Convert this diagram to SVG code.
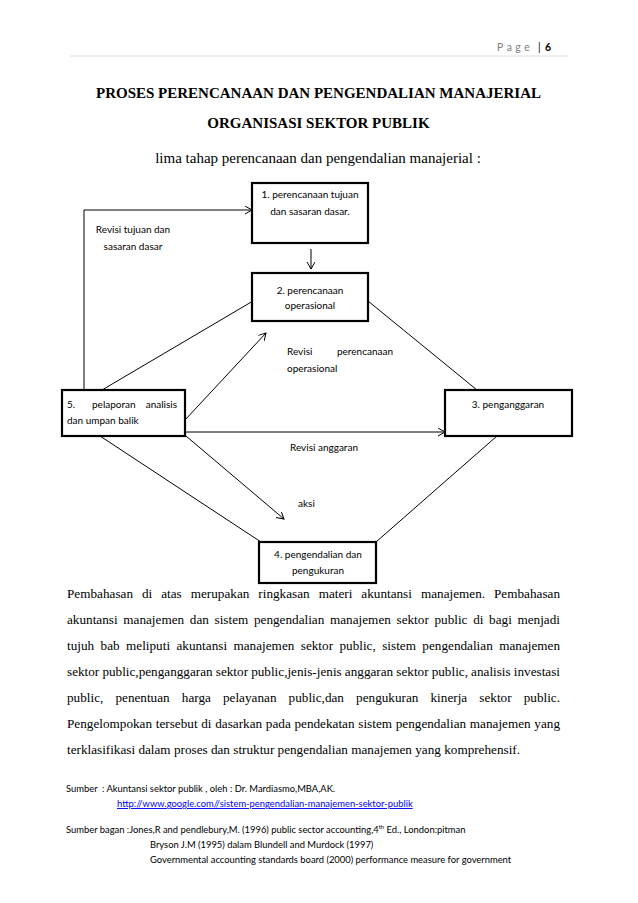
<svg xmlns="http://www.w3.org/2000/svg" width="638" height="903" viewBox="0 0 638 903">
<style>
.bg{fill:#fff}
.box{fill:#fff;stroke:#000;stroke-width:2.2}
.ln{fill:none;stroke:#000;stroke-width:1}
.c{font-family:Lato,"Liberation Sans",sans-serif;font-size:10px;fill:#000}
.m{text-anchor:middle}
.t{font-family:"Liberation Serif","Times New Roman",serif;font-size:13.2px;fill:#000}
.h{font-family:"Liberation Serif","Times New Roman",serif;font-size:15px;fill:#000;text-anchor:middle}
.b{font-weight:bold}
.s{font-family:Lato,"Liberation Sans",sans-serif;font-size:9.4px;fill:#000}
</style>
<defs>
<marker id="ah" markerUnits="userSpaceOnUse" markerWidth="10" markerHeight="10" refX="7" refY="4" orient="auto">
<path d="M0,0 L7,4 L0,8" fill="none" stroke="#000" stroke-width="1"/>
</marker>
</defs>
<rect class="bg" x="0" y="0" width="638" height="903"/>
<g id="header">
<text x="497" y="51" style="font-family:Lato,sans-serif;font-size:10.5px;fill:#7f7f7f;letter-spacing:3.5px">Page</text>
<text x="538" y="51" style="font-family:Lato,sans-serif;font-size:10.5px;fill:#000">|</text>
<text x="545" y="51" style="font-family:Lato,sans-serif;font-size:10.5px;font-weight:bold;fill:#000">6</text>
<line x1="70" y1="56" x2="568" y2="56" stroke="#e0e0e0" stroke-width="1"/>
</g>
<g id="title">
<text class="h b" x="318.5" y="98">PROSES PERENCANAAN DAN PENGENDALIAN MANAJERIAL</text>
<text class="h b" x="318.5" y="128">ORGANISASI SEKTOR PUBLIK</text>
<text class="h" x="318" y="162.5">lima tahap perencanaan dan pengendalian manajerial :</text>
</g>
<g id="connectors">
<polyline class="ln" points="84,390 84,210 252,210" marker-end="url(#ah)"/>
<line class="ln" x1="311" y1="249" x2="311" y2="269" marker-end="url(#ah)"/>
<line class="ln" x1="102" y1="390" x2="253" y2="301"/>
<line class="ln" x1="368" y1="301" x2="477" y2="390"/>
<line class="ln" x1="185" y1="420" x2="266" y2="333" marker-end="url(#ah)"/>
<line class="ln" x1="185" y1="432" x2="445" y2="432" marker-end="url(#ah)"/>
<line class="ln" x1="100" y1="436" x2="261" y2="542"/>
<line class="ln" x1="186" y1="436" x2="284" y2="519" marker-end="url(#ah)"/>
<line class="ln" x1="497" y1="436" x2="376" y2="542"/>
</g>
<g id="labels">
<text class="c m" x="133" y="233">Revisi tujuan dan</text>
<text class="c m" x="133" y="250">sasaran dasar</text>
<text class="c" x="287" y="355">Revisi</text>
<text class="c" x="393" y="355" text-anchor="end">perencanaan</text>
<text class="c" x="287" y="372">operasional</text>
<text class="c" x="290" y="451">Revisi anggaran</text>
<text class="c" x="298" y="507">aksi</text>
</g>
<g id="node1">
<rect class="box" x="252" y="183" width="116" height="60"/>
<text class="c m" x="310" y="198">1. perencanaan tujuan</text>
<text class="c m" x="310" y="215">dan sasaran dasar.</text>
</g>
<g id="node2">
<rect class="box" x="252" y="273" width="116" height="48"/>
<text class="c m" x="310" y="294">2. perencanaan</text>
<text class="c m" x="310" y="309">operasional</text>
</g>
<g id="node3">
<rect class="box" x="445" y="390" width="127" height="46"/>
<text class="c m" x="508" y="408">3. penganggaran</text>
</g>
<g id="node5">
<rect class="box" x="62" y="390" width="123" height="46"/>
<text class="c" x="67" y="408">5.</text>
<text class="c" x="92" y="408">pelaporan</text>
<text class="c" x="177" y="408" text-anchor="end">analisis</text>
<text class="c" x="67" y="424">dan umpan balik</text>
</g>
<g id="node4">
<rect class="box" x="259" y="542" width="117" height="41"/>
<text class="c m" x="318" y="558">4. pengendalian dan</text>
<text class="c m" x="318" y="574">pengukuran</text>
</g>
<g id="paragraph">
<text class="t" x="67" y="598" word-spacing="5.68" textLength="493" lengthAdjust="spacing">Pembahasan di atas merupakan ringkasan materi akuntansi manajemen. Pembahasan</text>
<text class="t" x="67" y="624" word-spacing="2.37" textLength="493" lengthAdjust="spacing">akuntansi manajemen dan sistem pengendalian manajemen sektor public di bagi menjadi</text>
<text class="t" x="67" y="650" word-spacing="3.12" textLength="493" lengthAdjust="spacing">tujuh bab meliputi akuntansi manajemen sektor public, sistem pengendalian manajemen</text>
<text class="t" x="67" y="676" word-spacing="-0.2" textLength="493" lengthAdjust="spacing">sektor public,penganggaran sektor public,jenis-jenis anggaran sektor public, analisis investasi</text>
<text class="t" x="67" y="702" word-spacing="8.79" textLength="493" lengthAdjust="spacing">public, penentuan harga pelayanan public,dan pengukuran kinerja sektor public.</text>
<text class="t" x="67" y="728" word-spacing="0.4" textLength="493" lengthAdjust="spacing">Pengelompokan tersebut di dasarkan pada pendekatan sistem pengendalian manajemen yang</text>
<text class="t" x="67" y="754">terklasifikasi dalam proses dan struktur pengendalian manajemen yang komprehensif.</text>
</g>
<g id="sources">
<text class="s" x="66" y="792">Sumber</text>
<text class="s" x="102" y="792">: Akuntansi sektor publik , oleh : Dr. Mardiasmo,MBA,AK.</text>
<text class="s" x="117" y="807" style="fill:#0000ff;text-decoration:underline">http://www.google.com//sistem-pengendalian-manajemen-sektor-publik</text>
<text class="s" x="66" y="833">Sumber bagan :Jones,R and pendlebury,M. (1996) public sector accounting,4<tspan dy="-4" font-size="6">th</tspan><tspan dy="4"> Ed., London:pitman</tspan></text>
<text class="s" x="150" y="848">Bryson J.M (1995) dalam Blundell and Murdock (1997)</text>
<text class="s" x="150" y="863">Governmental accounting standards board (2000) performance measure for government</text>
</g>
</svg>
